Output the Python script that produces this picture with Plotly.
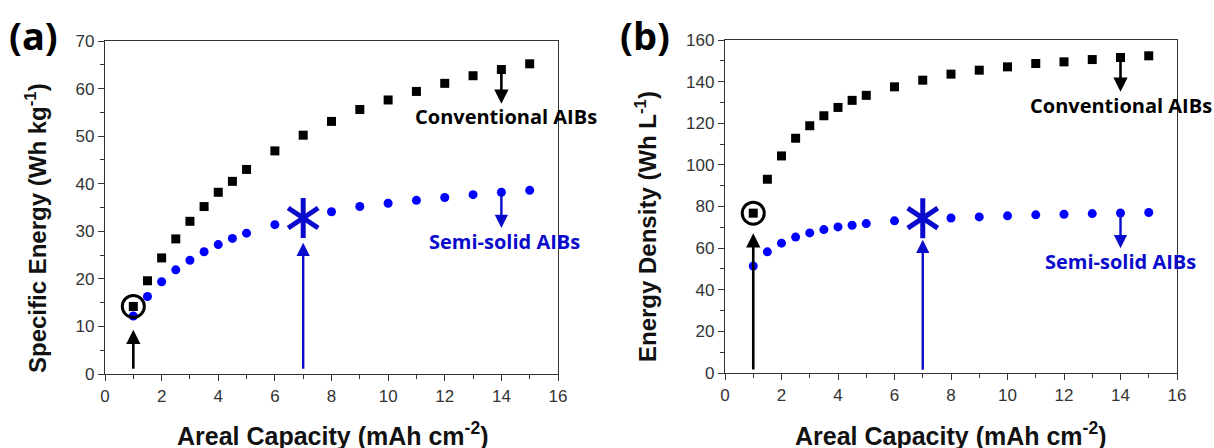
import plotly.graph_objects as go

# ---------------- data ----------------
areal_capacity = [1, 1.5, 2, 2.5, 3, 3.5, 4, 4.5, 5, 6, 7, 8, 9, 10, 11, 12, 13, 14, 15]
conv_specific_energy = [14.2, 19.6, 24.4, 28.4, 32.1, 35.2, 38.2, 40.5, 43.0, 46.9, 50.2,
                        53.1, 55.6, 57.6, 59.4, 61.1, 62.7, 64.0, 65.2]
semi_specific_energy = [12.2, 16.3, 19.4, 21.9, 23.9, 25.7, 27.2, 28.5, 29.6, 31.4, 32.8,
                        34.1, 35.2, 35.9, 36.5, 37.1, 37.7, 38.2, 38.6]
conv_energy_density = [76.8, 93.1, 104.3, 112.8, 118.8, 123.6, 127.6, 131.0, 133.4, 137.5, 140.7,
                       143.6, 145.5, 147.1, 148.7, 149.5, 150.6, 151.6, 152.4]
semi_energy_density = [51.4, 58.2, 62.4, 65.3, 67.3, 68.9, 70.2, 71.0, 71.8, 73.1, 74.4,
                       74.5, 75.0, 75.5, 76.0, 76.3, 76.6, 76.9, 77.1]

conv_highlight_idx = 0   # circled point (conventional, 1 mAh cm-2)
semi_highlight_idx = 10  # asterisk point (semi-solid, 7 mAh cm-2)

x_ticks = [0, 2, 4, 6, 8, 10, 12, 14, 16]
y_ticks_a = [0, 10, 20, 30, 40, 50, 60, 70]
y_ticks_b = [0, 20, 40, 60, 80, 100, 120, 140, 160]

label_conv = "Conventional AIBs"
label_semi = "Semi-solid AIBs"
x_title = "Areal Capacity (mAh cm<sup>-2</sup>)"
y_title_a = "Specific Energy (Wh kg<sup>-1</sup>)"
y_title_b = "Energy Density (Wh L<sup>-1</sup>)"

# ---------------- style ----------------
W, H = 1214, 448
BLACK = "#000000"
BLUE = "#0000FF"
DBLUE = "#0A0ACC"
TICK_FONT = dict(family="Liberation Sans, Arial", size=17, color="#333333")
TITLE_FONT = dict(family="Liberation Sans, Arial", size=25, color="#111111")
YTITLE_FONT = dict(family="Liberation Sans, Arial", size=24, color="#111111")
NOTE_FONT = "Open Sans"

fig = go.Figure()

panels = [
    dict(x="x", y="y", conv=conv_specific_energy, semi=semi_specific_energy),
    dict(x="x2", y="y2", conv=conv_energy_density, semi=semi_energy_density),
]

for p in panels:
    conv, semi = p["conv"], p["semi"]
    semi_x = [v for i, v in enumerate(areal_capacity) if i != semi_highlight_idx]
    semi_y = [v for i, v in enumerate(semi) if i != semi_highlight_idx]
    fig.add_trace(go.Scatter(x=semi_x, y=semi_y, mode="markers", xaxis=p["x"], yaxis=p["y"],
                             marker=dict(symbol="circle", size=9, color=BLUE),
                             showlegend=False, hoverinfo="skip"))
    fig.add_trace(go.Scatter(x=areal_capacity, y=conv, mode="markers", xaxis=p["x"], yaxis=p["y"],
                             marker=dict(symbol="square", size=9, color=BLACK),
                             showlegend=False, hoverinfo="skip"))
    # circled point
    fig.add_trace(go.Scatter(x=[areal_capacity[conv_highlight_idx]], y=[conv[conv_highlight_idx]],
                             mode="markers", xaxis=p["x"], yaxis=p["y"],
                             marker=dict(symbol="circle-open", size=22, color=BLACK,
                                         line=dict(width=3, color=BLACK)),
                             showlegend=False, hoverinfo="skip"))
    # six-armed asterisk point
    for sym in ["y-up-open", "y-down-open"]:
        fig.add_trace(go.Scatter(x=[areal_capacity[semi_highlight_idx]], y=[semi[semi_highlight_idx]],
                                 mode="markers", xaxis=p["x"], yaxis=p["y"],
                                 marker=dict(symbol=sym, size=25, color=DBLUE,
                                             line=dict(width=5, color=DBLUE)),
                                 showlegend=False, hoverinfo="skip"))

# ---------------- axes ----------------
common_x = dict(range=[0, 16], tickvals=x_ticks, ticks="outside", ticklen=6, tickwidth=1.3,
                tickcolor="#333333", minor=dict(dtick=1, ticks="outside", ticklen=4, tickcolor="#333333"),
                showgrid=False, zeroline=False, showline=True, mirror=True, linecolor="#333333",
                linewidth=1.4, tickfont=TICK_FONT, automargin=False)
common_y = dict(ticks="outside", ticklen=6, tickwidth=1.3, tickcolor="#333333",
                showgrid=False, zeroline=False, showline=True, mirror=True, linecolor="#333333",
                linewidth=1.4, tickfont=TICK_FONT, automargin=False)

fig.update_layout(
    width=W, height=H, autosize=False,
    margin=dict(l=0, r=0, t=0, b=0),
    paper_bgcolor="white", plot_bgcolor="white",
    xaxis=dict(domain=[105 / W, 558 / W], anchor="y", **common_x),
    yaxis=dict(domain=[1 - 374 / H, 1 - 41 / H], anchor="x", range=[0, 70], tickvals=y_ticks_a,
               minor=dict(dtick=5, ticks="outside", ticklen=4, tickcolor="#333333"), **common_y),
    xaxis2=dict(domain=[725 / W, 1177 / W], anchor="y2", **common_x),
    yaxis2=dict(domain=[1 - 373 / H, 1 - 40 / H], anchor="x2", range=[0, 160], tickvals=y_ticks_b,
                minor=dict(dtick=10, ticks="outside", ticklen=4, tickcolor="#333333"), **common_y),
)

annotations = []

# arrows: (axis suffix, x, tail_y, tip_y, color, width)
arrows = [
    ("", 1, 0.8, 9.3, BLACK, 2.6),
    ("", 7, 0.8, 27.6, DBLUE, 2.4),
    ("", 14, 63.6, 56.8, BLACK, 2.6),
    ("", 14, 38.4, 30.7, DBLUE, 2.4),
    ("2", 1, 1.0, 67.2, BLACK, 2.6),
    ("2", 7, 0.8, 64.0, DBLUE, 2.4),
    ("2", 14, 152.7, 135.1, BLACK, 2.6),
    ("2", 14, 76.8, 60.0, DBLUE, 2.4),
]
for sfx, xv, tail, tip, col, wd in arrows:
    annotations.append(dict(xref="x" + sfx, yref="y" + sfx, axref="x" + sfx, ayref="y" + sfx,
                            x=xv, y=tip, ax=xv, ay=tail, text="", showarrow=True,
                            arrowhead=2, arrowsize=1.1, arrowwidth=wd, arrowcolor=col, standoff=0,
                            startstandoff=0))

# series labels: (axis suffix, text, x, y, color)
labels = [
    ("", label_conv, 14.15, 54.1, BLACK),
    ("", label_semi, 14.1, 27.8, DBLUE),
    ("2", label_conv, 14.0, 128.7, BLACK),
    ("2", label_semi, 14.0, 53.4, DBLUE),
]
for sfx, txt, xv, yv, col in labels:
    annotations.append(dict(xref="x" + sfx, yref="y" + sfx, x=xv, y=yv, text="<b>%s</b>" % txt,
                            showarrow=False, xanchor="center", yanchor="middle",
                            font=dict(family=NOTE_FONT, size=20, color=col)))

# panel letters
for txt, px in [("(a)", 33), ("(b)", 645)]:
    annotations.append(dict(xref="paper", yref="paper", x=px / W, y=1 - 35 / H, text="<b>%s</b>" % txt,
                            showarrow=False, xanchor="center", yanchor="middle",
                            font=dict(family=NOTE_FONT, size=38, color=BLACK)))

# axis titles
for px in [333, 951]:
    annotations.append(dict(xref="paper", yref="paper", x=px / W, y=1 - 434 / H, text="<b>%s</b>" % x_title,
                            showarrow=False, xanchor="center", yanchor="middle", font=TITLE_FONT))
for txt, px, py in [(y_title_a, 36, 228), (y_title_b, 646, 227)]:
    annotations.append(dict(xref="paper", yref="paper", x=px / W, y=1 - py / H, text="<b>%s</b>" % txt,
                            showarrow=False, xanchor="center", yanchor="middle", textangle=-90,
                            font=YTITLE_FONT))

fig.update_layout(annotations=annotations)
fig.write_html("out.html", config={"displayModeBar": False},
               post_script="document.body.style.margin='0';document.body.style.overflow='hidden';")
